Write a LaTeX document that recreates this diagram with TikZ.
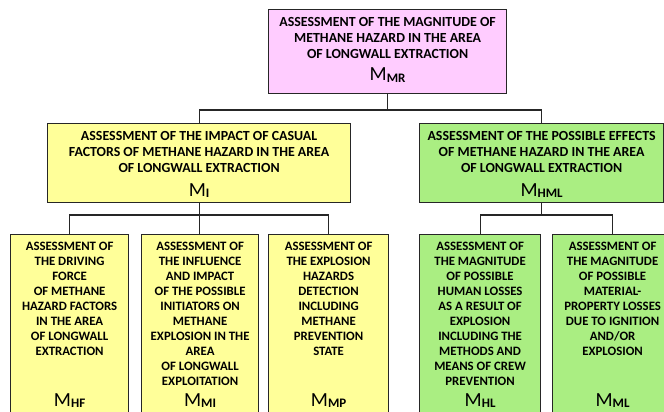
\documentclass[tikz,border=0pt]{standalone}
\usepackage{fontspec}
\setmainfont{Carlito}
\usetikzlibrary{calc}

\definecolor{boxpink}{RGB}{255,204,255}
\definecolor{boxyellow}{RGB}{255,255,153}
\definecolor{boxgreen}{RGB}{170,238,130}

\newcommand{\msym}[1]{{\fontsize{20}{20}\selectfont M}\raisebox{-1.5pt}{\fontsize{13}{13}\selectfont\bfseries #1}}

\tikzset{
  box/.style={draw=black!85, line width=1.2pt, inner sep=0pt, anchor=north west},
  pinkbox/.style={box, fill=boxpink},
  yellowbox/.style={box, fill=boxyellow},
  greenbox/.style={box, fill=boxgreen},
  headtxt/.style={font=\bfseries\fontsize{13.9}{16}\selectfont, align=center, anchor=north, inner sep=0pt},
  colltxt/.style={font=\bfseries\fontsize{12.8}{15}\selectfont, align=center, anchor=north, inner sep=0pt},
  symtxt/.style={anchor=base, inner sep=0pt},
  link/.style={draw=black!85, line width=1.1pt}
}

\begin{document}
\begin{tikzpicture}[x=1pt,y=-1pt]
    \useasboundingbox (0,0) rectangle (664,412);
    \clip (0,0) rectangle (664,412);

    % top level
    \node[pinkbox, minimum width=238pt, minimum height=84pt] (mr) at (268,9) {};
    \node[headtxt] (mrtxt) at ($(mr.north)+(0,8.3)$) {ASSESSMENT OF THE MAGNITUDE OF\\METHANE HAZARD IN THE AREA\\OF LONGWALL EXTRACTION};
    \node[symtxt] (mrsym) at (mr.center |- 0,81) {\msym{MR}};

    % second level
    \node[yellowbox, minimum width=303pt, minimum height=79pt] (mi) at (47,123) {};
    \node[headtxt] (mitxt) at ($(mi.north)+(0,8.4)$) {ASSESSMENT OF THE IMPACT OF CASUAL\\FACTORS OF METHANE HAZARD IN THE AREA\\OF LONGWALL EXTRACTION};
    \node[symtxt] (misym) at (mi.center |- 0,196) {\msym{I}};

    \node[greenbox, minimum width=244pt, minimum height=79pt] (mhml) at (419,123) {};
    \node[headtxt] (mhmltxt) at ($(mhml.north)+(0,8.4)$) {ASSESSMENT OF THE POSSIBLE EFFECTS\\OF METHANE HAZARD IN THE AREA\\OF LONGWALL EXTRACTION};
    \node[symtxt] (mhmlsym) at (mhml.center |- 0,196) {\msym{HML}};

    % third level
    \node[yellowbox, minimum width=118pt, minimum height=190pt] (hf) at (10,234) {};
    \node[colltxt] (hftxt) at ($(hf.north)+(0,7.8)$) {ASSESSMENT OF\\THE DRIVING\\FORCE\\OF METHANE\\HAZARD FACTORS\\IN THE AREA\\OF LONGWALL\\EXTRACTION};
    \node[symtxt] (hfsym) at (hf.center |- 0,406) {\msym{HF}};

    \node[yellowbox, minimum width=117pt, minimum height=190pt] (mmi) at (141,234) {};
    \node[colltxt] (mmitxt) at ($(mmi.north)+(0,7.8)$) {ASSESSMENT OF\\THE INFLUENCE\\AND IMPACT\\OF THE POSSIBLE\\INITIATORS ON\\METHANE\\EXPLOSION IN THE\\AREA\\OF LONGWALL\\EXPLOITATION};
    \node[symtxt] (mmisym) at (mmi.center |- 0,406) {\msym{MI}};

    \node[yellowbox, minimum width=120pt, minimum height=190pt] (mp) at (268,234) {};
    \node[colltxt] (mptxt) at ($(mp.north)+(0,7.8)$) {ASSESSMENT OF\\THE EXPLOSION\\HAZARDS\\DETECTION\\INCLUDING\\METHANE\\PREVENTION\\STATE};
    \node[symtxt] (mpsym) at (mp.center |- 0,406) {\msym{MP}};

    \node[greenbox, minimum width=121pt, minimum height=190pt] (hl) at (419,234) {};
    \node[colltxt] (hltxt) at ($(hl.north)+(0,7.8)$) {ASSESSMENT OF\\THE MAGNITUDE\\OF POSSIBLE\\HUMAN LOSSES\\AS A RESULT OF\\EXPLOSION\\INCLUDING THE\\METHODS AND\\MEANS OF CREW\\PREVENTION};
    \node[symtxt] (hlsym) at (hl.center |- 0,406) {\msym{HL}};

    \node[greenbox, minimum width=120pt, minimum height=190pt] (ml) at (552,234) {};
    \node[colltxt] (mltxt) at ($(ml.north)+(0,7.8)$) {ASSESSMENT OF\\THE MAGNITUDE\\OF POSSIBLE\\MATERIAL-\\PROPERTY LOSSES\\DUE TO IGNITION\\AND/OR\\EXPLOSION};
    \node[symtxt] (mlsym) at (ml.center |- 0,406) {\msym{ML}};

    % connectors
    \coordinate (topbus) at (0,110);
    \coordinate (lowbus) at (0,215);
    \draw[link] (mr.south) -- (mr.south |- topbus);
    \draw[link] (mi.north) |- (topbus -| mhml.north) -- (mhml.north);
    \draw[link] (mi.south) -- (mi.south |- mmi.north);
    \draw[link] (hf.north) |- (lowbus -| mp.north) -- (mp.north);
    \draw[link] (mhml.south) -- (mhml.south |- lowbus);
    \draw[link] (hl.north) |- (lowbus -| ml.north) -- (ml.north);
\end{tikzpicture}
\end{document}
